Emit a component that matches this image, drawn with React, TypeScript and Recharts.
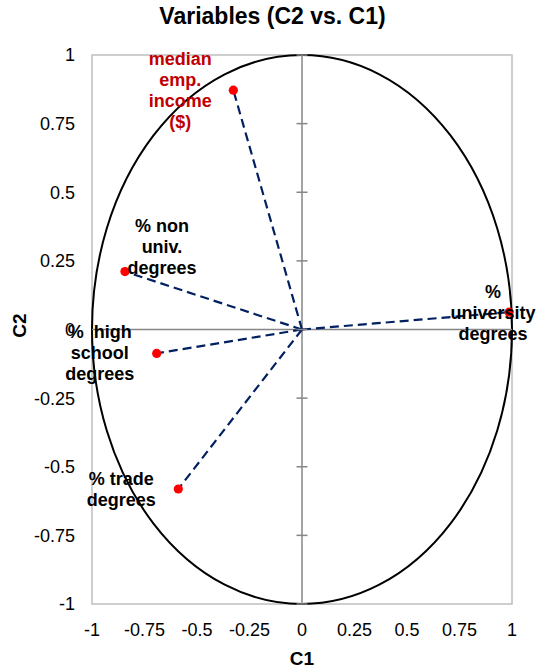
import React from 'react';
import {
  ScatterChart,
  Scatter,
  XAxis,
  YAxis,
  ReferenceLine,
  ReferenceArea,
  ReferenceDot,
  Label,
} from 'recharts';

// ---- data ----
const variables = [
  'median emp. income ($)',
  '% non univ. degrees',
  '% high school degrees',
  '% trade degrees',
  '% university degrees',
];
const c1Values = [-0.327, -0.843, -0.692, -0.589, 0.986];
const c2Values = [0.872, 0.211, -0.087, -0.581, 0.063];
const labelLines = [
  ['median', 'emp.', 'income', '($)'],
  ['% non', 'univ.', 'degrees'],
  ['%  high', 'school', 'degrees'],
  ['% trade', 'degrees'],
  ['%', 'university', 'degrees'],
];
const axisTicks = [-1, -0.75, -0.5, -0.25, 0, 0.25, 0.5, 0.75, 1];

// ---- layout / style (not data) ----
const labelOffsets: Record<string, { dx: number; dy: number }> = {
  'median emp. income ($)': { dx: -53, dy: -25 },
  '% non univ. degrees': { dx: 37, dy: -40 },
  '% high school degrees': { dx: -57, dy: -15 },
  '% trade degrees': { dx: -57, dy: -4 },
  '% university degrees': { dx: -16, dy: -14 },
};
const labelColor: Record<string, string> = {
  'median emp. income ($)': '#C00000',
};

const FONT = '"Liberation Sans", Arial, sans-serif';
const AXIS_GRAY = '#868686';
const VECTOR = '#002060';

const data = variables.map((name, i) => ({
  name,
  c1: c1Values[i],
  c2: c2Values[i],
  lines: labelLines[i],
}));

const PointShape = (props: any) => {
  const { cx, cy, payload } = props;
  if (cx == null || cy == null) return null;
  const off = labelOffsets[payload.name] || { dx: 0, dy: 0 };
  const color = labelColor[payload.name] || '#000';
  return (
    <g>
      <circle cx={cx} cy={cy} r={4.6} fill="#FF0000" />
      <text
        x={cx + off.dx}
        y={cy + off.dy}
        textAnchor="middle"
        fontFamily={FONT}
        fontWeight="bold"
        fontSize={18}
        fill={color}
        style={{ whiteSpace: 'pre' }}
      >
        {payload.lines.map((l: string, j: number) => (
          <tspan key={j} x={cx + off.dx} dy={j === 0 ? 0 : 21}>
            {l}
          </tspan>
        ))}
      </text>
    </g>
  );
};

const fmt = (v: number) => String(v);

export default function App() {
  return (
    <div style={{ position: 'absolute', left: 0, top: 0, width: 538, height: 670, background: '#fff' }}>
      <div
        style={{
          position: 'absolute',
          left: 0,
          top: 5,
          width: 545,
          textAlign: 'center',
          fontFamily: FONT,
          fontWeight: 'bold',
          fontSize: 23,
          lineHeight: '23px',
          color: '#000',
        }}
      >
        Variables (C2 vs. C1)
      </div>
      <ScatterChart
        width={538}
        height={670}
        margin={{ top: 55, right: 26, bottom: 0, left: 0 }}
        style={{ fontFamily: FONT }}
      >
        <XAxis
          type="number"
          dataKey="c1"
          domain={[-1, 1]}
          ticks={axisTicks}
          interval={0}
          axisLine={false}
          tickLine={false}
          tickSize={0}
          tickMargin={19}
          height={66}
          tickFormatter={fmt}
          tick={{ fontSize: 18, fill: '#000', fontFamily: FONT }}
        >
          <Label
            content={(p: any) => {
              const vb = p.viewBox;
              return (
                <text
                  x={vb.x + vb.width / 2}
                  y={vb.y + vb.height - 5}
                  textAnchor="middle"
                  fontFamily={FONT}
                  fontWeight="bold"
                  fontSize={19}
                  fill="#000"
                >
                  C1
                </text>
              );
            }}
          />
        </XAxis>
        <YAxis
          type="number"
          dataKey="c2"
          domain={[-1, 1]}
          ticks={axisTicks}
          interval={0}
          axisLine={false}
          tickLine={false}
          tickSize={0}
          tickMargin={17}
          width={92}
          tickFormatter={fmt}
          tick={{ fontSize: 18, fill: '#000', fontFamily: FONT }}
        >
          <Label
            content={(p: any) => {
              const vb = p.viewBox;
              const x = vb.x + 26;
              const y = vb.y + vb.height / 2 - 4;
              return (
                <text
                  x={x}
                  y={y}
                  textAnchor="middle"
                  transform={`rotate(-90 ${x} ${y})`}
                  fontFamily={FONT}
                  fontWeight="bold"
                  fontSize={19}
                  fill="#000"
                >
                  C2
                </text>
              );
            }}
          />
        </YAxis>
        <ReferenceArea x1={-1} x2={1} y1={-1} y2={1} fill="none" stroke="#BFBFBF" strokeWidth={1.5} />
        <ReferenceLine x={0} stroke={AXIS_GRAY} strokeWidth={1.5} />
        <ReferenceLine y={0} stroke={AXIS_GRAY} strokeWidth={1.5} />
        {axisTicks.map((t) => (
          <ReferenceDot
            key={`tk${t}`}
            x={0}
            y={t}
            r={0}
            shape={(p: any) => (
              <line x1={p.cx - 5.5} x2={p.cx + 5.5} y1={p.cy} y2={p.cy} stroke={AXIS_GRAY} strokeWidth={1.5} />
            )}
          />
        ))}
        <ReferenceArea
          x1={-1}
          x2={1}
          y1={-1}
          y2={1}
          shape={(p: any) => (
            <ellipse
              cx={p.x + p.width / 2}
              cy={p.y + p.height / 2}
              rx={p.width / 2}
              ry={p.height / 2}
              fill="none"
              stroke="#000"
              strokeWidth={2}
            />
          )}
        />
        {data.map((d) => (
          <ReferenceLine
            key={`v${d.name}`}
            segment={[
              { x: 0, y: 0 },
              { x: d.c1, y: d.c2 },
            ]}
            stroke={VECTOR}
            strokeWidth={2.2}
            strokeDasharray="9 5"
          />
        ))}
        <Scatter data={data} isAnimationActive={false} shape={PointShape} />
      </ScatterChart>
    </div>
  );
}
